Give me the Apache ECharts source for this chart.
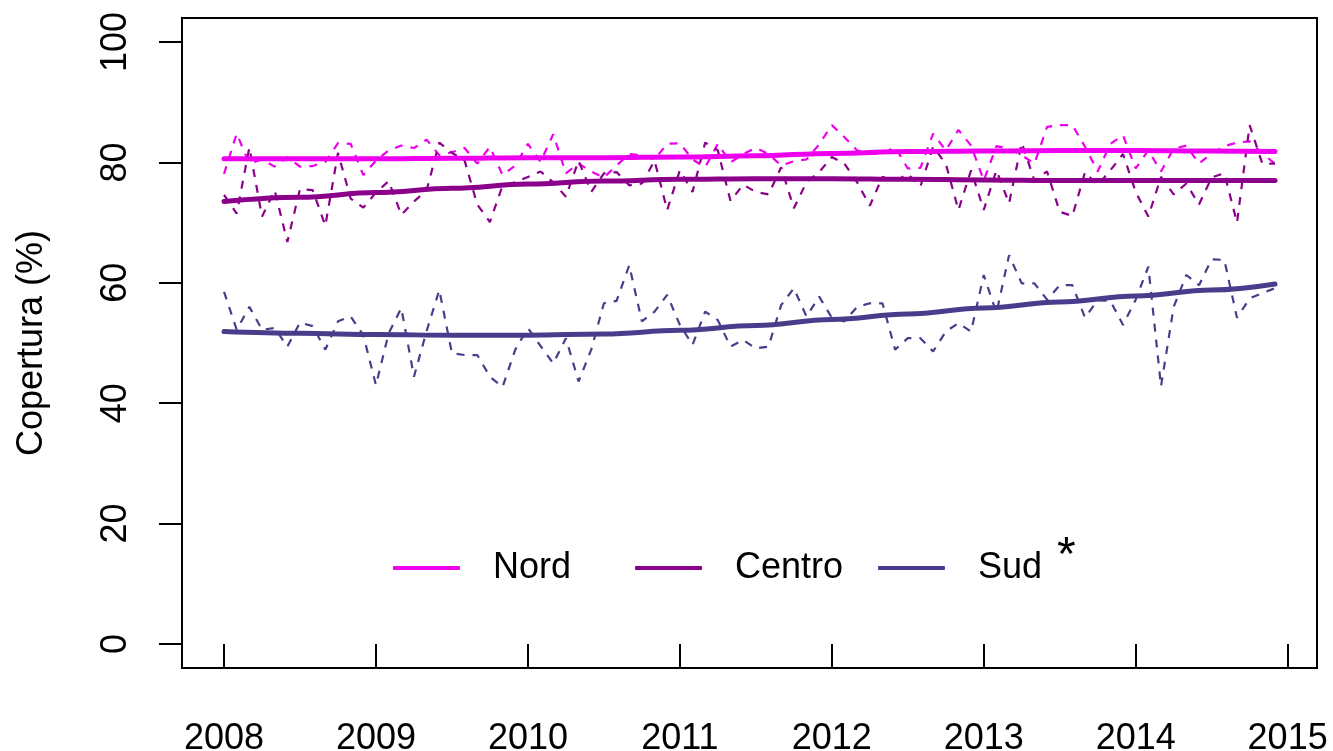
<!DOCTYPE html>
<html>
<head>
<meta charset="utf-8">
<title>Copertura</title>
<script src="https://cdn.jsdelivr.net/npm/echarts@6/dist/echarts.min.js"></script>
<style>
  html, body { margin: 0; padding: 0; background: #fff; }
  #chart { width: 1333px; height: 751px; }
</style>
</head>
<body>
<div id="chart"></div>
<script>
// valori mensili, gen 2008 - dic 2014
var nordMensile = [
  78.1, 84.8, 79.8, 80.5, 79.3, 80.9, 79.3, 79.4, 80.1, 83.2, 83.1, 77.9,
  80.3, 82.0, 82.8, 82.4, 83.8, 81.2, 81.7, 82.4, 79.8, 82.6, 77.9, 79.5,
  83.1, 80.1, 84.7, 78.2, 79.8, 78.5, 77.5, 79.5, 81.4, 81.2, 80.5, 83.1,
  83.2, 80.5, 79.2, 83.1, 80.0, 81.4, 82.4, 81.4, 79.5, 80.2, 80.5, 83.0,
  86.2, 84.2, 82.0, 81.4, 81.4, 82.6, 79.0, 79.1, 84.8, 82.0, 85.4, 82.8,
  77.0, 82.7, 82.3, 81.2, 79.8, 85.9, 86.2, 86.2, 82.6, 78.5, 83.1, 84.5,
  79.0, 82.0, 78.5, 82.3, 82.8, 79.8, 81.5, 82.7, 83.3, 83.5, 81.5, 79.8
];
var centroMensile = [
  74.6, 71.5, 82.5, 71.0, 75.4, 66.8, 75.6, 75.4, 69.5, 81.6, 74.0, 72.5,
  75.0, 76.9, 71.3, 73.5, 75.4, 83.3, 81.6, 80.3, 73.0, 70.1, 76.2, 76.7,
  77.6, 78.5, 76.7, 74.3, 80.3, 75.1, 78.2, 78.4, 76.2, 76.5, 80.3, 72.1,
  78.7, 75.1, 83.3, 82.0, 73.6, 76.3, 75.1, 74.7, 79.2, 72.4, 76.7, 78.4,
  80.9, 79.8, 76.7, 72.8, 77.6, 76.8, 78.1, 76.0, 82.6, 79.8, 72.1, 78.7,
  72.1, 78.7, 73.2, 83.3, 77.0, 78.5, 71.8, 71.1, 78.4, 76.2, 78.7, 81.4,
  75.1, 71.0, 77.6, 74.7, 76.5, 73.0, 77.5, 78.2, 70.0, 86.2, 79.8, 79.8
];
var sudMensile = [
  58.5, 52.2, 56.0, 52.2, 52.5, 49.4, 53.4, 52.8, 48.9, 53.6, 54.4, 51.3,
  43.0, 51.6, 55.8, 44.4, 52.0, 58.8, 48.3, 48.0, 48.0, 44.4, 42.7, 48.9,
  52.5, 49.5, 46.6, 50.8, 43.6, 48.9, 56.6, 57.0, 62.9, 53.6, 55.2, 58.0,
  53.0, 49.7, 55.2, 53.8, 49.4, 50.5, 49.1, 49.4, 56.3, 59.1, 54.4, 57.7,
  54.2, 53.6, 56.0, 56.6, 56.6, 48.9, 50.8, 50.8, 48.6, 51.9, 53.3, 51.9,
  61.3, 55.0, 64.6, 59.9, 59.9, 57.2, 59.6, 59.6, 54.2, 57.1, 57.0, 53.0,
  57.2, 62.7, 42.8, 56.0, 61.3, 59.6, 63.9, 63.8, 54.2, 57.4, 58.3, 59.1
];

// curve di tendenza lette ogni sei mesi
var anniTrend = [2008, 2008.5, 2009, 2009.5, 2010, 2010.5, 2011, 2011.5, 2012, 2012.5, 2013, 2013.5, 2014, 2014.5, 2014.917];
var nordTrend = [80.6, 80.6, 80.6, 80.7, 80.8, 80.8, 80.9, 81.1, 81.5, 81.8, 81.9, 82.0, 82.0, 81.9, 81.8];
var centroTrend = [73.5, 74.2, 75.0, 75.7, 76.4, 76.9, 77.2, 77.3, 77.3, 77.2, 77.1, 77.0, 77.0, 77.0, 77.0];
var sudTrend = [51.9, 51.6, 51.4, 51.3, 51.3, 51.5, 52.1, 52.9, 53.9, 54.8, 55.8, 56.8, 57.8, 58.8, 59.8];

var anniTick = [2008, 2009, 2010, 2011, 2012, 2013, 2014, 2015];
var yTick = [0, 20, 40, 60, 80, 100];

var colori = { Nord: "#EE00EE", Centro: "#8B008B", Sud: "#483D8B" };
var font = "Liberation Sans, Arial, sans-serif";

function mensile(valori) {
  return valori.map(function (v, i) { return [2008 + i / 12, v]; });
}
function trend(valori) {
  return valori.map(function (v, i) { return [anniTrend[i], v]; });
}

function serieMensile(nome, valori) {
  return {
    name: nome + " mensile",
    type: "line",
    data: mensile(valori),
    symbol: "none",
    z: 2,
    lineStyle: { color: colori[nome], width: 2.2, type: [8, 8] },
  };
}
function serieTrend(nome, valori) {
  return {
    name: nome,
    type: "line",
    data: trend(valori),
    symbol: "none",
    smooth: 0.4,
    smoothMonotone: "x",
    z: 3,
    itemStyle: { color: colori[nome] },
    lineStyle: { color: colori[nome], width: 5, cap: "round" },
  };
}

function legenda(nome, left) {
  return {
    data: [nome],
    left: left,
    top: 550,
    icon: "roundRect",
    itemWidth: 67,
    itemHeight: 4,
    itemGap: 0,
    padding: 0,
    textStyle: { fontSize: 36, color: "#000", fontFamily: font, padding: [0, 0, 0, 28] },
  };
}

var chart = echarts.init(document.getElementById("chart"));
chart.setOption({
  animation: false,
  backgroundColor: "#fff",
  textStyle: { fontFamily: font },
  grid: {
    left: 182,
    right: 16,
    top: 18,
    bottom: 83,
    show: true,
    borderColor: "#000",
    borderWidth: 2,
    containLabel: false,
    outerBoundsMode: "none",
  },
  xAxis: {
    type: "value",
    min: 2007.7233,
    max: 2015.1933,
    axisLine: { show: false },
    splitLine: { show: false },
    axisTick: {
      show: true,
      customValues: anniTick,
      length: 23,
      lineStyle: { color: "#000", width: 2 },
    },
    axisLabel: {
      customValues: anniTick,
      fontSize: 36,
      color: "#000",
      margin: 53,
      fontFamily: font,
      formatter: function (v) { return String(v); },
    },
  },
  yAxis: {
    type: "value",
    min: -4,
    max: 104,
    name: "Copertura (%)",
    nameLocation: "middle",
    nameRotate: 90,
    nameGap: 132,
    nameTextStyle: { fontSize: 36, color: "#000", fontFamily: font },
    axisLine: { show: false },
    splitLine: { show: false },
    axisTick: {
      show: true,
      customValues: yTick,
      length: 23,
      lineStyle: { color: "#000", width: 2 },
    },
    axisLabel: {
      customValues: yTick,
      rotate: 90,
      fontSize: 36,
      color: "#000",
      margin: 48,
      fontFamily: font,
    },
  },
  legend: [legenda("Nord", 393), legenda("Centro", 635), legenda("Sud", 878)],
  graphic: [
    {
      type: "text",
      left: 1057,
      top: 533,
      style: { text: "*", fontSize: 48, fill: "#000", fontFamily: font },
    },
  ],
  series: [
    serieMensile("Nord", nordMensile),
    serieMensile("Centro", centroMensile),
    serieMensile("Sud", sudMensile),
    serieTrend("Nord", nordTrend),
    serieTrend("Centro", centroTrend),
    serieTrend("Sud", sudTrend),
  ],
});
</script>
</body>
</html>
